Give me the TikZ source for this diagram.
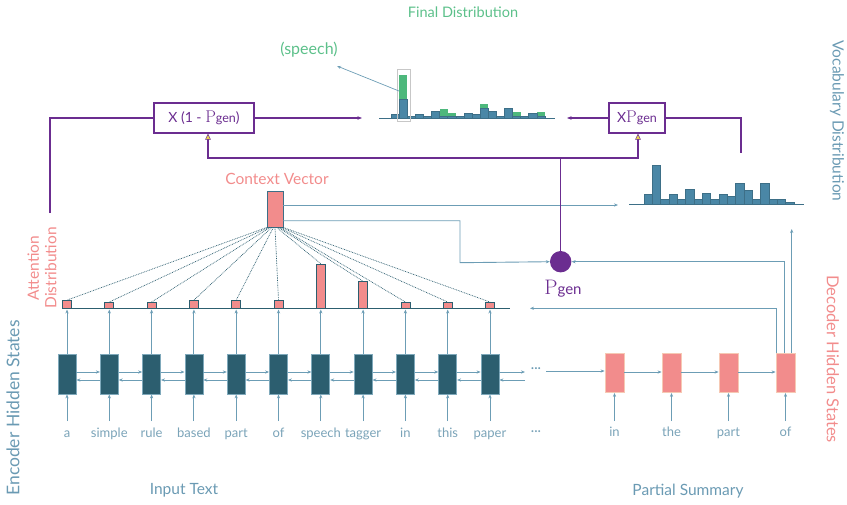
\documentclass[tikz,border=0pt]{standalone}
\usepackage{fontspec}
\setsansfont{Lato}
\usetikzlibrary{arrows.meta,calc}
\definecolor{tealdark}{HTML}{2C5E6F}
\definecolor{encb}{HTML}{7FA9BB}
\definecolor{linec}{HTML}{6C9DB5}
\definecolor{wordc}{HTML}{7AA3B8}
\definecolor{lblc}{HTML}{6A9AB3}
\definecolor{pinkc}{HTML}{F28C8C}
\definecolor{decb}{HTML}{F6C9B4}
\definecolor{purpc}{HTML}{6B2D90}
\definecolor{greent}{HTML}{5CC08A}
\definecolor{greenb}{HTML}{4DB87C}
\definecolor{histb}{HTML}{4A87A6}
\definecolor{histd}{HTML}{3D6F87}
\definecolor{yellowc}{HTML}{E8D44D}
\begin{document}
\begin{tikzpicture}[x=1pt,y=-1pt,
  every node/.style={font=\sffamily},
  arr/.style={draw=linec, line width=0.9pt, -{Stealth[length=4pt,width=3.2pt]}},
  ln/.style={draw=linec, line width=0.9pt},
  purpl/.style={draw=purpc, line width=1.1pt},
  parr/.style={draw=purpc, line width=1.1pt, -{Stealth[length=4.5pt,width=3.5pt]}},
  ytri/.style={draw=purpc, line width=1.1pt, -{Triangle[length=6pt,width=5.5pt,fill=yellowc,line width=0.5pt]}},
  encbox/.style={rectangle, fill=tealdark, draw=encb, line width=0.8pt, minimum width=18pt, minimum height=40pt, inner sep=0},
  decbox/.style={rectangle, fill=pinkc, draw=decb, line width=0.8pt, minimum width=19pt, minimum height=39pt, inner sep=0},
  attbox/.style={rectangle, fill=pinkc, draw=tealdark, line width=0.8pt, minimum width=9pt, inner sep=0, anchor=south},
  word/.style={text=wordc, font=\sffamily\fontsize{13}{15}\selectfont, text height=9pt, text depth=2.7pt, inner sep=0},
  lbl/.style={font=\sffamily\fontsize{15.5}{18}\selectfont, inner sep=0},
  dotl/.style={draw=tealdark, line width=0.7pt, dash pattern=on 0.8pt off 0.9pt},
  bar/.style={fill=histb, draw=histd, line width=0.5pt},
  gbar/.style={fill=greenb, draw=none},
  pbox/.style={rectangle, draw=purpc, line width=1.1pt, fill=white, minimum height=30pt, inner sep=0, text=purpc, font=\sffamily\fontsize{14}{16}\selectfont}]
\useasboundingbox (0,0) rectangle (847,504);

% ---------- titles / side labels
\node[lbl, text=greent, font=\sffamily\fontsize{14.5}{17}\selectfont] (tfinal) at (463,12) {Final Distribution};
\node[lbl, text=greent, font=\sffamily\fontsize{16}{18}\selectfont] (tspeech) at (309,50) {(speech)};
\node[lbl, text=pinkc] (tctx) at (277,179) {Context Vector};
\node[lbl, text=lblc] (tinput) at (184,490) {Input Text};
\node[lbl, text=lblc] (tpartial) at (688,491) {Partial Summary};
\node[lbl, text=lblc, rotate=-90] (tvocab) at (837,121) {Vocabulary Distribution};
\node[lbl, text=pinkc, rotate=-90, font=\sffamily\fontsize{16.5}{18}\selectfont] (tdec) at (833,359) {Decoder Hidden States};
\node[lbl, text=lblc, rotate=90, font=\sffamily\fontsize{17.5}{20}\selectfont] (tenc) at (13,408) {Encoder Hidden States};
\node[lbl, text=pinkc, rotate=90, align=center, font=\sffamily\fontsize{15.5}{17.5}\selectfont] (tattn) at (42,268) {Attention\\Distribution};

% ---------- encoder
\foreach \w [count=\n from 0] in {a,simple,rule,based,part,of,speech,tagger,in,this,paper} {
  \pgfmathsetmacro\xx{67+42.3*\n}
  \node[encbox] (e\n) at (\xx,374) {};
  \node[word] (w\n) at (\xx,434) {\w};
  \coordinate (wi\n) at (\xx,421);
  \draw[arr] (wi\n) -- (e\n.south);
}
\foreach \i [evaluate=\i as \j using int(\i+1)] in {0,...,9} {
  \draw[arr] ([yshift=2pt]e\i.east) -- ([yshift=2pt]e\j.west);
  \draw[arr] ([yshift=-6pt]e\j.west) -- ([yshift=-6pt]e\i.east);
}
\node[word, text=lblc] (dots1) at (536,369) {···};
\node[word] (dots2) at (536,432) {···};
\coordinate (ea) at (525,372);
\coordinate (eb) at (525,380);
\draw[arr] ([yshift=2pt]e10.east) -- (ea);
\draw[arr] (eb) -- ([yshift=-6pt]e10.east);

% ---------- decoder
\foreach \w [count=\n from 0] in {in,the,part,of} {
  \pgfmathsetmacro\xx{614.5+57*\n}
  \node[decbox] (d\n) at (\xx,373) {};
  \node[word] (dw\n) at (\xx,433) {\w};
  \coordinate (di\n) at (\xx,421);
  \draw[arr] (di\n) -- (d\n.south);
}
\draw[arr] (546,371) -- (d0.west |- 546,371);
\foreach \i [evaluate=\i as \j using int(\i+1)] in {0,1,2} {
  \draw[arr] ([yshift=1pt]d\i.east) -- ([yshift=1pt]d\j.west);
}

% ---------- attention distribution
\draw[draw=tealdark, line width=1pt] (62,308.5) -- (510,308.5);
\foreach \h [count=\n from 0] in {7.6,5.7,5.7,7.6,7.6,7.6,44,26.5,5.7,5.7,5.7} {
  \pgfmathsetmacro\xx{67+42.3*\n}
  \node[attbox, minimum height=\h pt] (a\n) at (\xx,308.5) {};
  \draw[arr] (e\n.north) -- ([yshift=-1pt]a\n.south);
}

% ---------- context vector
\node[rectangle, fill=pinkc, draw=histd, line width=1pt, minimum width=16pt, minimum height=36pt, inner sep=0] (ctx) at (275,209) {};
\foreach \n in {0,...,10} {
  \draw[dotl] ($(ctx.south west)!\n/10!(ctx.south east)$) -- (a\n.north);
}

% ---------- p_gen
\node[circle, fill=purpc, minimum size=21.4pt, inner sep=0] (pg) at (560.7,261.7) {};
\node[text=purpc, inner sep=0] (pgl) at (563,289) {{\rmfamily\fontsize{21}{21}\selectfont P}{\fontsize{15}{15}\selectfont gen}};

% context vector outputs
\coordinate (c1) at (283,205);
\coordinate (c2) at (283,220.7);
\coordinate (vin) at (618,205);
\draw[arr] (c1) -- (vin);
\draw[arr] (c2) -| (460,262.7) -- (pg.west);

% decoder outputs
\coordinate (o1) at (776.7,353);
\coordinate (o2) at (784.3,353);
\coordinate (o3) at (791.7,353);
\coordinate (attend) at (530,308.3);
\coordinate (vbot) at (791.7,229);
\draw[arr] (o1) |- (attend);
\draw[arr] (o2) |- (pg.east);
\draw[arr] (o3) -- (vbot);

% ---------- vocabulary distribution
\foreach \h [count=\k from 0] in {9.7,39,5.3,9.7,5.3,15,5.3,11,5.3,9.7,8.3,21,14.3,5.3,21,5,5,2.3} {
  \draw[bar] ({644+8.33*\k},204.3) rectangle ++(8.33,-\h);
}
\draw[draw=histd, line width=1pt] (629,204.3) -- (804,204.3);

% ---------- final distribution
\foreach \g [count=\k from 0] in {0,43.5,0,0,0,0,9,5,0,0,0,14,0,0,0,6.5,0,0,6.5} {
  \ifdim \g pt>0pt \fill[greenb] ({391+8.1*\k},118.3) rectangle ++(8.1,-\g); \fi
}
\foreach \h [count=\k from 0] in {4.5,19.5,2,4.5,2,7,2.5,1.7,2.3,5,4.3,10,7,2.3,10.5,2.3,2.3,5,2} {
  \draw[bar] ({391+8.1*\k},118.3) rectangle ++(8.1,-\h);
}
\draw[draw=histd, line width=1pt] (379,118.3) -- (555,118.3);
\draw[draw=black!22, line width=0.9pt] (397,69) rectangle (410,121.5);
\coordinate (sp1) at (399,91);
\coordinate (sp2) at (337,66);
\draw[draw=linec, line width=0.7pt, -{Stealth[length=4pt,width=3.2pt]}] (sp1) -- (sp2);

% ---------- mixing boxes
\node[pbox, minimum width=100pt] (bx1) at (204,118) {X (1 - {\rmfamily\fontsize{17}{17}\selectfont P}{\fontsize{12.5}{12.5}\selectfont gen})};
\node[pbox, minimum width=56pt] (bx2) at (637,118) {X{\rmfamily\fontsize{17}{17}\selectfont P}{\fontsize{12.5}{12.5}\selectfont gen}};
\coordinate (fl) at (362,118);
\coordinate (fr) at (567,118);
\draw[parr] (bx1.east) -- (fl);
\draw[parr] (bx2.west) -- (fr);
\coordinate (adtop) at (50,213);
\coordinate (vdtop) at (741,153);
\draw[purpl] (adtop) |- (bx1.west);
\draw[purpl] (bx2.east) -| (vdtop);
\coordinate (m1) at (208,158);
\coordinate (m2) at (638,158);
\draw[purpl] (pg.north) -- (pg.north |- m1);
\draw[ytri] (m2) -- (m1) -- (m1 |- bx1.south);
\draw[ytri] (m1) -- (m2) -- (m2 |- bx2.south);
\end{tikzpicture}
\end{document}
